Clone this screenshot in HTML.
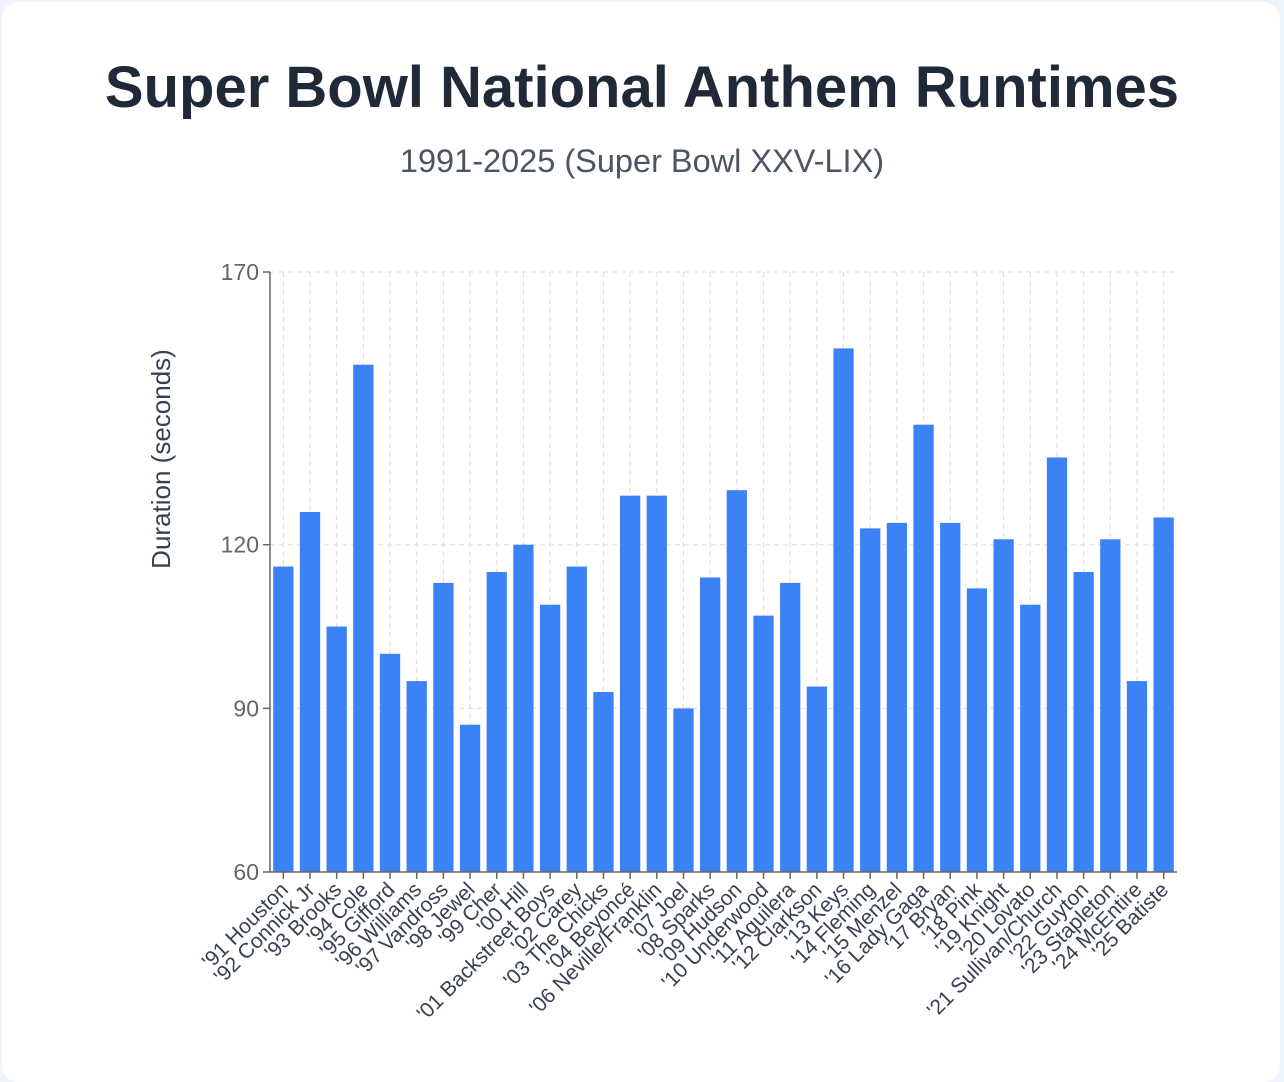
<!DOCTYPE html>
<html><head><meta charset="utf-8"><style>
html,body{margin:0;padding:0;background:#eef4fb;}
#card{position:absolute;left:2px;top:2px;width:1278px;height:1080px;background:#fff;border-radius:16px;}
svg{position:absolute;left:0;top:0;}
text{font-family:"Liberation Sans","DejaVu Sans",sans-serif;}
</style></head><body>
<div id="card"></div>
<svg id="chart" width="1284" height="1069">
<text x="642" y="107" text-anchor="middle" font-size="58" font-weight="bold" fill="#1f2937">Super Bowl National Anthem Runtimes</text>
<text x="642" y="172" text-anchor="middle" font-size="32.5" fill="#4b5563">1991-2025 (Super Bowl XXV-LIX)</text>
<text transform="translate(170,459) rotate(-90)" text-anchor="middle" font-size="26" fill="#374151">Duration (seconds)</text>
</svg>
<script>
const categories=["'91 Houston","'92 Connick Jr","'93 Brooks","'94 Cole","'95 Gifford","'96 Williams","'97 Vandross","'98 Jewel","'99 Cher","'00 Hill","'01 Backstreet Boys","'02 Carey","'03 The Chicks","'04 Beyoncé","'06 Neville/Franklin","'07 Joel","'08 Sparks","'09 Hudson","'10 Underwood","'11 Aguilera","'12 Clarkson","'13 Keys","'14 Fleming","'15 Menzel","'16 Lady Gaga","'17 Bryan","'18 Pink","'19 Knight","'20 Lovato","'21 Sullivan/Church","'22 Guyton","'23 Stapleton","'24 McEntire","'25 Batiste"];
const durations=[116,126,105,153,100,95,113,87,115,120,109,116,93,129,129,90,114,130,107,113,94,156,123,124,142,124,112,121,109,136,115,121,95,125];
const yTicks=[60,90,120,170];
const NS="http://www.w3.org/2000/svg";
const svg=document.getElementById('chart');
const L=270,R=1177,T=272,B=872,yMin=60,yMax=170;
const y=v=>B-(v-yMin)/(yMax-yMin)*(B-T);
const bw=(R-L)/categories.length;
const x=i=>L+bw*i+bw/2;
function mk(tag,attrs){const e=document.createElementNS(NS,tag);for(const k in attrs)e.setAttribute(k,attrs[k]);svg.appendChild(e);return e;}
categories.forEach((c,i)=>{
  const g=mk('line',{x1:x(i),x2:x(i),y1:T,y2:B,stroke:'#ddd','stroke-dasharray':'5,4'});
  
  
});
yTicks.forEach(t=>{
  const g=mk('line',{x1:L,x2:R,y1:y(t),y2:y(t),stroke:'#ddd','stroke-dasharray':'5,4'});
  
  
  const tk=mk('line',{x1:L-7,x2:L,y1:y(t),y2:y(t),stroke:'#666','stroke-width':1.5});
  
  
  const tx=mk('text',{x:L-11,y:y(t)+8,'text-anchor':'end','font-size':23,fill:'#666'});
  tx.textContent=t;
  
  
});
categories.forEach((c,i)=>{
  const w=bw*0.76;
  const b=mk('rect',{x:x(i)-w/2,y:y(durations[i]),width:w,height:B-y(durations[i]),fill:'#3b82f6'});
  
  
  const tk=mk('line',{x1:x(i),x2:x(i),y1:B,y2:B+7,stroke:'#666','stroke-width':1.5});
  
  
  const tx=mk('text',{transform:`translate(${x(i)+6},${B+19}) rotate(-45)`,'text-anchor':'end','font-size':21,fill:'#374151'});
  tx.textContent=c;
  
  
});
const ax=mk('line',{x1:L,x2:L,y1:T,y2:B,stroke:'#666','stroke-width':1.5});


const bx=mk('line',{x1:L,x2:R,y1:B,y2:B,stroke:'#666','stroke-width':1.5});


</script>
</body></html>
